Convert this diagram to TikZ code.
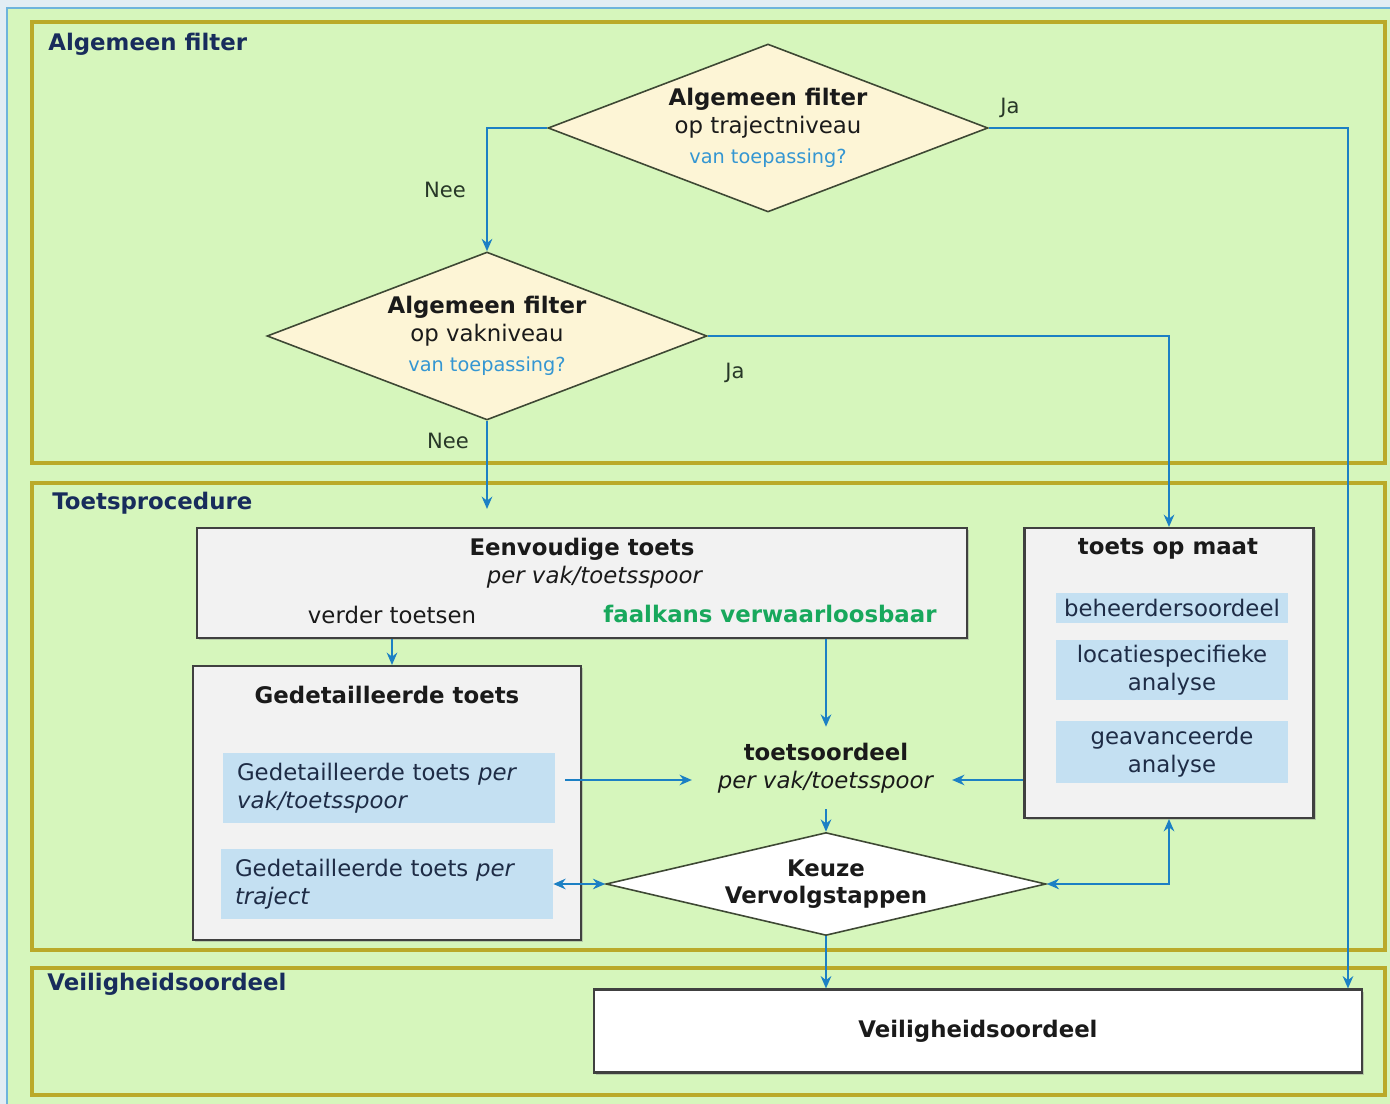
\documentclass[tikz,border=0pt]{standalone}
\usepackage{fontspec}
\setmainfont{DejaVu Sans}
\usetikzlibrary{shapes.geometric, arrows.meta, positioning, shadows}
\definecolor{lawngreen}{RGB}{214,246,188}
\definecolor{framegold}{RGB}{186,170,42}
\definecolor{edgeblue}{RGB}{110,180,220}
\definecolor{paleback}{RGB}{226,237,244}
\definecolor{flowblue}{RGB}{28,128,196}
\definecolor{navytitle}{RGB}{24,44,92}
\definecolor{creamfill}{RGB}{253,245,214}
\definecolor{diamondedge}{RGB}{62,72,52}
\definecolor{boxgrey}{RGB}{242,242,242}
\definecolor{subblue}{RGB}{196,224,242}
\definecolor{askblue}{RGB}{52,150,210}
\definecolor{okgreen}{RGB}{24,168,92}
\definecolor{inktext}{RGB}{26,26,26}
\definecolor{subtext}{RGB}{30,44,70}
\definecolor{labelgreen}{RGB}{40,56,40}

\begin{document}
\begin{tikzpicture}[x=0.02cm, y=-0.02cm,
  every node/.style={font=\fontsize{13}{16}\selectfont, text=inktext},
  zone/.style={draw=framegold, line width=1.9pt},
  zonetitle/.style={anchor=west, inner sep=0pt, font=\fontsize{13}{16}\selectfont\bfseries, text=navytitle},
  ask/.style={diamond, draw=diamondedge, fill=creamfill, line width=0.9pt, inner sep=0pt, aspect=2.6, minimum width=8.8cm, minimum height=3.36cm, align=center},
  stepbox/.style={draw=black!75, fill=boxgrey, line width=1.2pt, drop shadow={shadow xshift=1.2pt, shadow yshift=-1.2pt, opacity=0.35}},
  subbox/.style={fill=subblue, text=subtext, inner sep=0pt},
  lbl/.style={font=\fontsize{12}{14}\selectfont, text=labelgreen},
  arr/.style={draw=flowblue, line width=1.3pt, >={Stealth[length=7pt, width=6pt]}, ->}
]
  \useasboundingbox (0,0) rectangle (1390,1104);
  \fill[paleback] (0,0) rectangle (1390,1104);
  \filldraw[draw=edgeblue, fill=lawngreen, line width=1pt] (7,8) rectangle (1400,1120);

  \draw[zone] (32,22) rectangle (1385,463);
  \draw[zone] (32,483) rectangle (1385,950);
  \draw[zone] (32,968) rectangle (1385,1095);
  \node[zonetitle] (tFilter) at (48,44) {Algemeen filter};
  \node[zonetitle] (tToets) at (52,503) {Toetsprocedure};
  \node[zonetitle] (tVeilig) at (47,984) {Veiligheidsoordeel};

  \node[ask] (afTraject) at (768,128) {\textbf{Algemeen filter}\\op trajectniveau\\[1pt]{\fontsize{11}{13}\selectfont\color{askblue}van toepassing?}};
  \node[ask] (afVak) at (487,336) {\textbf{Algemeen filter}\\op vakniveau\\[1pt]{\fontsize{11}{13}\selectfont\color{askblue}van toepassing?}};

  \node[stepbox, minimum width=15.4cm, minimum height=2.2cm] (eenvoudig) at (582,583) {};
  \node (evTitel) at (582,549) {\textbf{Eenvoudige toets}};
  \node (evPer) at (595,577) {\textit{per vak/toetsspoor}};
  \node (verder) at (392,615) {verder toetsen};
  \node[text=okgreen, font=\fontsize{13}{16}\selectfont\bfseries] (faalkans) at (770,614) {faalkans verwaarloosbaar};

  \node[stepbox, minimum width=7.76cm, minimum height=5.48cm] (gedetail) at (387,803) {};
  \node (gdTitel) at (387,695) {\textbf{Gedetailleerde toets}};
  \node[subbox, minimum width=6.64cm, minimum height=1.4cm, text width=6.08cm, align=left] (gdVak) at (389,788) {Gedetailleerde toets \textit{per}\\\textit{vak/toetsspoor}};
  \node[subbox, minimum width=6.64cm, minimum height=1.42cm, text width=6.08cm, align=left] (gdTraject) at (387,884) {Gedetailleerde toets \textit{per}\\\textit{traject}};

  \node[stepbox, minimum width=5.78cm, minimum height=5.8cm] (opMaat) at (1169,673) {};
  \node (omTitel) at (1168,549) {\textbf{toets op maat}};
  \node[subbox, minimum width=4.64cm, minimum height=0.62cm] (beheer) at (1172,608) {beheerdersoordeel};
  \node[subbox, minimum width=4.64cm, minimum height=1.2cm, align=center] (locatie) at (1172,670) {locatiespecifieke\\analyse};
  \node[subbox, minimum width=4.64cm, minimum height=1.24cm, align=center] (geavanceerd) at (1172,752) {geavanceerde\\analyse};

  \node[inner xsep=10pt, inner ysep=9pt, align=center] (toetsoordeel) at (826,768) {\textbf{toetsoordeel}\\\textit{per vak/toetsspoor}};
  \node[ask, fill=white, aspect=4, minimum height=2.06cm] (keuze) at (826,884) {\textbf{Keuze}\\[-1pt]\textbf{Vervolgstappen}};

  \node[stepbox, fill=white, minimum width=15.36cm, minimum height=1.66cm] (veilig) at (978,1031) {\textbf{Veiligheidsoordeel}};

  \node[lbl] (neeTraject) at (445,190) {Nee};
  \node[lbl] (jaTraject) at (1010,108) {Ja};
  \node[lbl] (jaVak) at (735,373) {Ja};
  \node[lbl] (neeVak) at (448,441) {Nee};

  \coordinate (oordeelIn) at ([yshift=-0.24cm]toetsoordeel.east);
  \coordinate (oordeelUit) at ([yshift=-0.24cm]toetsoordeel.west);

  \draw[arr] (afTraject.west) -| (afVak.north);
  \draw[arr] (afTraject.east) -| ([xshift=-0.3cm]veilig.north east);
  \draw[arr] (afVak.east) -| (opMaat.north);
  \draw[arr, shorten >=0.36cm] (afVak.south) -- (afVak.south |- eenvoudig.north);
  \draw[arr] (eenvoudig.south -| verder) -- (gedetail.north -| verder);
  \draw[arr] (eenvoudig.south -| toetsoordeel) -- (toetsoordeel.north);
  \draw[arr, shorten <=0.2cm, shorten >=0.16cm] (gdVak.east |- oordeelUit) -- (oordeelUit);
  \draw[arr] (opMaat.west |- oordeelIn) -- (oordeelIn);
  \draw[arr] (toetsoordeel.south) -- (keuze.north);
  \draw[arr, <->] (keuze.west -| gdTraject.east) -- (keuze.west);
  \draw[arr, <->] (keuze.east) -| (opMaat.south);
  \draw[arr] (keuze.south) -- (keuze.south |- veilig.north);
\end{tikzpicture}
\end{document}
